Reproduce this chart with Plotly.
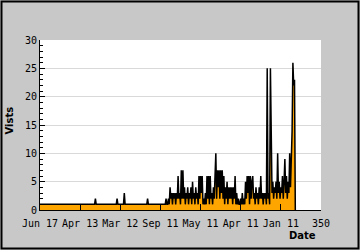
import plotly.graph_objects as go

# ---- data ----
base_days = [0, 68, 69, 70, 95, 96, 97, 104, 105, 106, 133, 134, 135, 156]
base_visits = [1, 1, 2, 1, 1, 2, 1, 1, 3, 1, 1, 2, 1, 1]

dense_start = 157
dense_visits = [
    2, 1, 1, 2, 1, 4, 2, 3, 1, 3, 2, 3, 1, 3, 2, 6,
    2, 3, 1, 7, 2, 7, 2, 4, 1, 3, 2, 4, 1, 3, 2, 4, 1, 5,
    2, 3, 1, 4, 2, 3, 1, 6, 2, 6, 3, 6, 1, 2, 1,
    3, 1, 6, 2, 6, 1, 6, 2, 3, 1, 4, 2, 7, 10, 2, 7, 4, 7, 2, 7,
    3, 7, 2, 6, 1, 4, 2, 5, 1, 4, 2, 4, 2, 4, 1, 4, 2, 6, 1, 3, 1, 2, 1, 1, 2,
    1, 3, 1, 2, 1, 5, 2, 6, 3, 6, 1, 6, 2, 5, 6, 2, 3, 1, 4, 2, 3, 1, 4, 2, 6,
    2, 3, 1, 3, 2, 3, 1,
    25, 2, 3, 1, 25, 14, 3, 5, 2, 4, 3, 5, 2, 10, 3, 5, 2, 4, 3, 6, 2, 5, 9,
    3, 6, 2, 5, 3, 10, 4, 9, 14, 26, 22, 23, 0,
]
dense_days = list(range(dense_start, dense_start + len(dense_visits)))

days = base_days + dense_days
visits = base_visits + dense_visits

tick_vals = [0, 50, 100, 150, 200, 250, 300, 350]
tick_text = ["Jun 17", "Apr 13", "Mar 12", "Sep 11", "May 11", "Apr 11", "Jan 11", "350"]

# ---- figure ----
W, H = 360, 250
ML, MR, MT, MB = 40, 39, 40, 40
PW, PH = W - ML - MR, H - MT - MB
INSET = 1.5  # frame line centre, px from the image edge

fig = go.Figure()
fig.add_trace(go.Scatter(
    x=days, y=visits, mode="lines",
    line=dict(color="black", width=1.5),
    fill="tozeroy", fillcolor="#FFA500",
    hoverinfo="skip",
))

mono = "DejaVu Sans Mono"
fig.update_layout(
    template="none",
    width=W, height=H,
    margin=dict(l=ML, r=MR, t=MT, b=MB, pad=0),
    paper_bgcolor="#c8c8c8",
    plot_bgcolor="white",
    showlegend=False,
    font=dict(family=mono, size=10, color="black"),
    xaxis=dict(
        range=[0, 350], tickmode="array", tickvals=tick_vals, ticktext=tick_text,
        ticks="inside", ticklen=6, tickcolor="black", tickwidth=1,
        ticklabelstandoff=4,
        showline=True, linecolor="black", linewidth=1,
        showgrid=False, zeroline=False,
        tickfont=dict(family=mono, size=10, color="black"),
        fixedrange=True,
    ),
    yaxis=dict(
        range=[0, 30], tickmode="linear", tick0=0, dtick=5,
        ticks="inside", ticklen=5, tickcolor="black", tickwidth=1,
        minor=dict(dtick=1, ticks="inside", ticklen=3, tickcolor="black", showgrid=False),
        showline=True, linecolor="black", linewidth=1,
        showgrid=True, gridcolor="#d9d9d9", gridwidth=1,
        zeroline=False,
        tickfont=dict(family=mono, size=10, color="black"),
        fixedrange=True,
    ),
    annotations=[
        dict(text="<b>Date</b>", xref="paper", yref="paper",
             x=(318 - ML) / PW, y=(H - MB - 236) / PH,
             xanchor="right", yanchor="middle", showarrow=False,
             font=dict(family="DejaVu Sans", size=10, color="black")),
        dict(text="<b>Vists</b>", xref="paper", yref="paper",
             x=(9 - ML) / PW, y=(H - MB - 120.5) / PH,
             xanchor="center", yanchor="middle", textangle=-90, showarrow=False,
             font=dict(family="DejaVu Sans", size=10, color="black")),
    ],
    shapes=[
        dict(type="rect", xref="paper", yref="paper",
             x0=-(ML - INSET) / PW, x1=1 + (MR - INSET) / PW,
             y0=-(MB - INSET) / PH, y1=1 + (MT - INSET) / PH,
             line=dict(color="black", width=2), fillcolor="rgba(0,0,0,0)", layer="above"),
    ],
)

fig.write_html("out.html", config={"displayModeBar": False})
